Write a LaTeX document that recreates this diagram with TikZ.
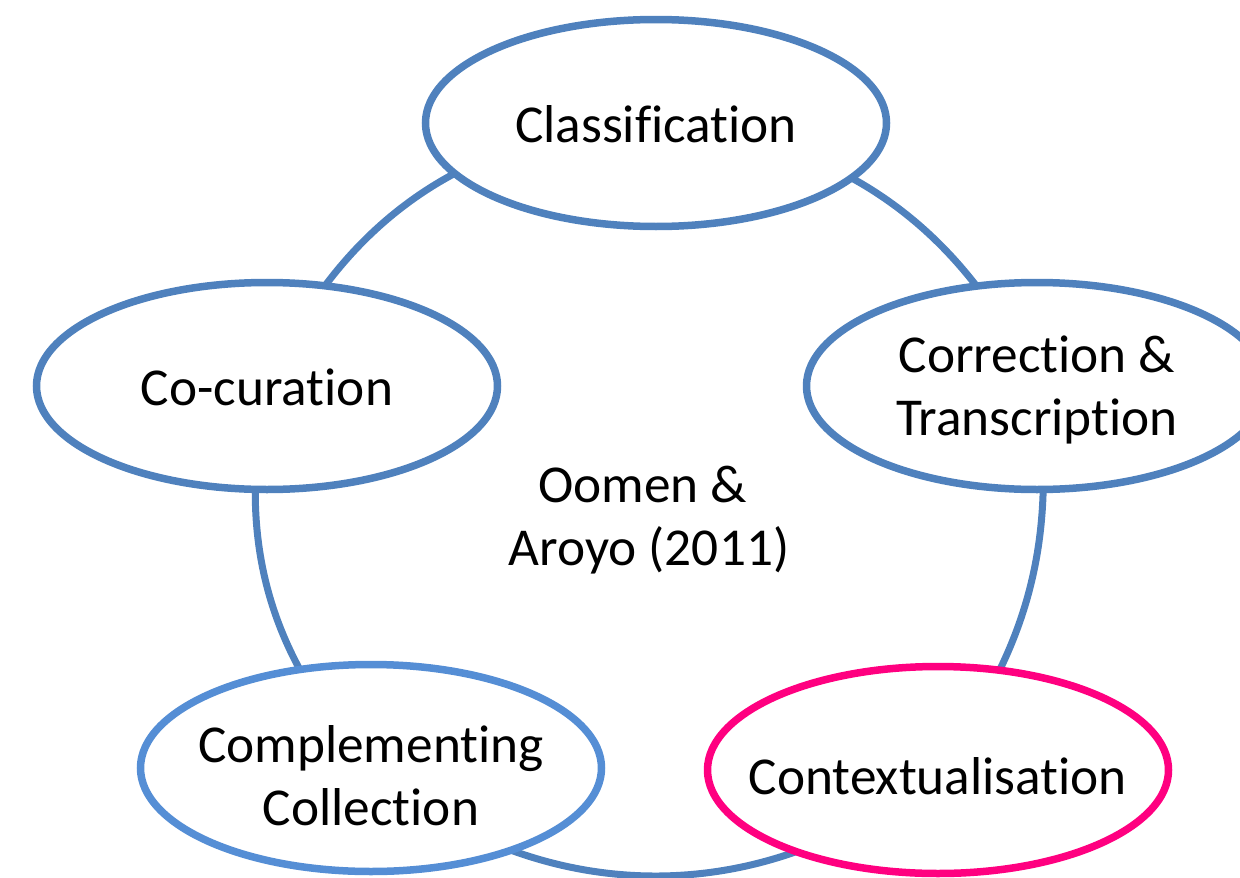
\documentclass[tikz,border=0pt]{standalone}
\usepackage{fontspec}
\setmainfont[Ligatures={NoCommon,NoRare}]{Carlito}
\usetikzlibrary{backgrounds,shapes.geometric}
\definecolor{stageblue}{RGB}{79,129,189}
\definecolor{paleblue}{RGB}{85,142,213}
\definecolor{hotpink}{RGB}{255,0,128}

\begin{document}
\begin{tikzpicture}[x=1pt,y=-1pt,
	stage/.style={ellipse,draw=stageblue,line width=7.5pt,fill=white,minimum width=461pt,minimum height=207pt,inner sep=-30pt,align=center,font=\fontsize{53.3}{63}\selectfont,text height=38pt,text depth=0pt},
	link/.style={draw=stageblue,line width=7pt}]
	\clip (0,0) rectangle (1240,878);
	% the five stages
	\node[stage] (class) at (656,123) {Classification};
	\node[stage,text height=98pt] (corr) at (1037,386) {Correction \&\\Transcription};
	\node[stage,draw=hotpink,text height=48pt] (context) at (938,770) {Contextualisation};
	\node[stage,draw=paleblue,text height=114pt] (compl) at (371,768) {Complementing\\Collection};
	\node[stage] (cocur) at (267,386) {Co-curation};
	% source in the middle
	\node[align=center,font=\fontsize{53.3}{63}\selectfont] (oomen) at (649,520) {Oomen \&\kern.23em\\Aroyo (2011)};
	% the cycle behind them
	\begin{scope}[on background layer]
		\draw[link] (cocur.center) to[bend left=32] (class.center);
		\draw[link] (class.center) to[bend left=30] (corr.center);
		\draw[link] (corr.center) to[bend left=22] (context.center);
		\draw[link] (context.center) to[bend left=40] (compl.center);
		\draw[link] (compl.center) to[bend left=27] (cocur.center);
	\end{scope}
\end{tikzpicture}
\end{document}
